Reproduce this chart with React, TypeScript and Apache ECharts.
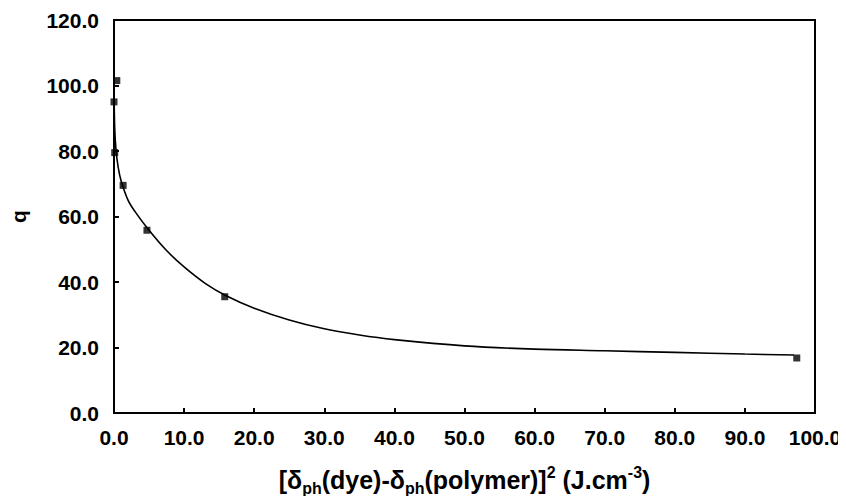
import React, { useEffect, useRef } from "react";
import * as echarts from "echarts";

// Measured points
const pointX = [0.0, 0.4, 0.1, 1.3, 4.7, 15.8, 97.4];
const pointY = [95.0, 101.5, 79.5, 69.5, 55.8, 35.5, 16.8];

// Fitted curve
const curveX = [0.0, 0.1, 0.3, 0.6, 1.0, 2.0, 3.0, 5.0, 7.5, 10.0, 13.0, 16.0, 20.0, 25.0, 30.0, 35.0, 40.0, 50.0, 60.0, 70.0, 80.0, 90.0, 97.0];
const curveY = [100.0, 87.0, 80.0, 75.0, 71.0, 65.0, 61.5, 55.8, 49.6, 44.6, 39.6, 35.8, 32.0, 28.4, 25.7, 23.8, 22.4, 20.5, 19.5, 19.0, 18.5, 18.0, 17.7];

const xTicks = { min: 0, max: 100, interval: 10 };
const yTicks = { min: 0, max: 120, interval: 20 };

const FONT = "'Liberation Sans', Arial, sans-serif";

export default function App() {
  const ref = useRef<HTMLDivElement>(null);
  useEffect(() => {
    if (!ref.current) return;
    const chart = echarts.init(ref.current, undefined, { renderer: "svg" });
    const points = pointX.map((x, i) => [x, pointY[i]]);
    const curve = curveX.map((x, i) => [x, curveY[i]]);
    chart.setOption({
      animation: false,
      backgroundColor: "#ffffff",
      grid: {
        left: 112,
        right: 31,
        top: 20,
        bottom: 91,
        show: true,
        borderColor: "#000",
        borderWidth: 2,
        backgroundColor: "transparent",
      },
      xAxis: {
        type: "value",
        min: xTicks.min,
        max: xTicks.max,
        interval: xTicks.interval,
        axisLine: { show: true, lineStyle: { color: "#000", width: 2 } },
        axisTick: { show: true, inside: true, length: 5, lineStyle: { color: "#000", width: 2 } },
        splitLine: { show: false },
        axisLabel: {
          color: "#000",
          fontFamily: FONT,
          fontWeight: "bold",
          fontSize: 21,
          margin: 14,
          formatter: (v: number) => v.toFixed(1),
        },
        name: "{n|[δ}{sub|ph}{n|(dye)-δ}{sub|ph}{n|(polymer)]}{sup|2}{n| (J.cm}{sup|-3}{n|)}",
        nameLocation: "middle",
        nameGap: 51,
        nameTextStyle: {
          color: "#000",
          fontFamily: FONT,
          fontWeight: "bold",
          fontSize: 25,
          rich: {
            n: { fontFamily: FONT, fontWeight: "bold", fontSize: 25, color: "#000", lineHeight: 32, verticalAlign: "middle" },
            sub: { fontFamily: FONT, fontWeight: "bold", fontSize: 16, color: "#000", lineHeight: 14, verticalAlign: "bottom" },
            sup: { fontFamily: FONT, fontWeight: "bold", fontSize: 16, color: "#000", lineHeight: 14, verticalAlign: "top" },
          },
        },
      },
      yAxis: {
        type: "value",
        min: yTicks.min,
        max: yTicks.max,
        interval: yTicks.interval,
        axisLine: { show: true, lineStyle: { color: "#000", width: 2 } },
        axisTick: { show: true, inside: true, length: 5, lineStyle: { color: "#000", width: 2 } },
        splitLine: { show: false },
        axisLabel: {
          color: "#000",
          fontFamily: FONT,
          fontWeight: "bold",
          fontSize: 21,
          margin: 15,
          formatter: (v: number) => v.toFixed(1),
        },
        name: "q",
        nameLocation: "middle",
        nameRotate: 90,
        nameGap: 85,
        nameTextStyle: { color: "#000", fontFamily: FONT, fontWeight: "bold", fontSize: 21 },
      },
      series: [
        {
          type: "line",
          data: curve,
          smooth: 0.35,
          symbol: "none",
          lineStyle: { color: "#000", width: 1.6 },
          z: 2,
        },
        {
          type: "scatter",
          data: points,
          symbol: "rect",
          symbolSize: 7,
          clip: false,
          itemStyle: { color: "#000" },
          z: 3,
        },
      ],
    });
    return () => chart.dispose();
  }, []);
  return <div ref={ref} style={{ width: 846, height: 504, margin: -8 }} />;
}
